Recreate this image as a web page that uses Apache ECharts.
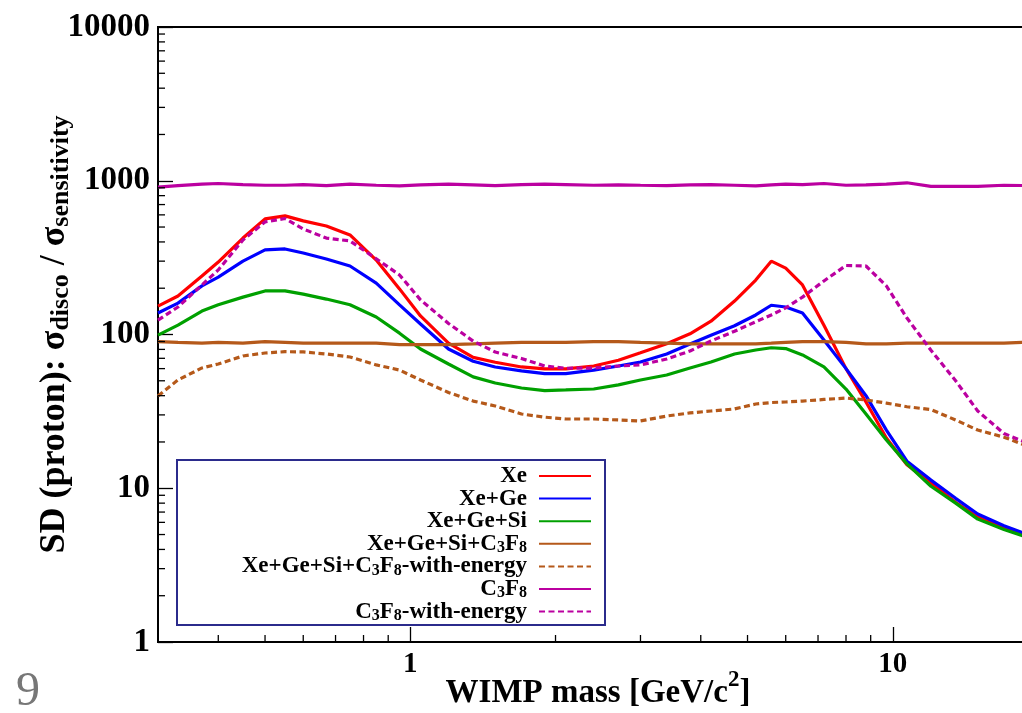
<!DOCTYPE html>
<html><head><meta charset="utf-8">
<script src="https://cdn.jsdelivr.net/npm/echarts@6/dist/echarts.min.js"></script>
<style>html,body{margin:0;padding:0;background:#fff}#c{width:1022px;height:713px}</style>
</head><body><div id="c"></div>
<script>
// WIMP mass grid [GeV/c^2]
const mass = [0.3,0.33,0.37,0.4,0.45,0.5,0.55,0.6,0.67,0.75,0.85,0.95,1.05,1.2,1.35,1.5,1.7,1.9,2.1,2.4,2.7,3.0,3.4,3.8,4.2,4.7,5.2,5.6,6.0,6.5,7.2,8.0,8.8,9.7,10.7,12,13.5,15,17,19,20];
const xe = [153,178,240,296,424,565,591,548,508,444,305,198,132,88,71,66,61.5,59.7,59.7,62.4,68,76,87,101,122,165,226,300,270,210,115,60,36.4,21.2,14.2,10.8,8.1,6.5,5.5,4.9,4.7];
const xeGe = [138,160,207,236,300,355,360,339,310,279,216,156,117,80.5,67,61.5,58,55.7,55.7,58.7,62.4,66.2,74.7,86.7,99,114,134,155,151,138,92,60,40,23.9,15,11.3,8.6,6.8,5.7,5.0,4.9];
const xeGeSi = [99,115,142,156,175,192,192,183,170,156,130,102,80.5,64.3,53,48.4,44.9,43.2,43.6,44.2,47,50.6,54.5,60.6,66.2,74.7,79.3,82,81,73.6,61.5,44.2,30.4,20.6,14.4,10.3,8.0,6.3,5.4,4.8,4.7];
const xeGeSiC3F8 = [90,89,88,89,88,90,89,88,88,88,88,86,86,86,87,88,89,89,89,90,90,89,88,87,87,87,87,88,89,90,90,89,87,87,88,88,88,88,88,89,89];
const xeGeSiC3F8Energy = [39.8,50.6,60.6,64.3,72.5,75.8,77.3,77,74.7,71.4,63.4,58.7,50.6,42,36.9,34.3,30.4,29,28.2,28.2,27.8,27.4,29.5,30.9,31.8,32.8,35.3,36.1,36.4,36.9,37.8,38.6,37.5,35.8,33.9,32.5,27.8,23.9,21.5,18.8,18.2];
const c3f8 = [910,930,950,960,945,935,935,945,930,950,935,925,940,950,940,930,945,950,945,935,940,935,930,940,945,935,925,940,950,945,960,935,940,950,970,920,920,920,935,930,940];
const c3f8Energy = [124,151,210,263,412,540,568,486,424,406,311,244,168,118,90.6,76.9,69.8,62.4,60.3,60.5,62.4,63.4,69.3,78.1,90.7,105,121,134,149,175,223,281,279,207,128,79,50,31.8,22.7,19.7,19];

const seriesNames = ['Xe','Xe+Ge','Xe+Ge+Si','Xe+Ge+Si+C3F8','Xe+Ge+Si+C3F8-with-energy','C3F8','C3F8-with-energy'];
const seriesValues = [xe, xeGe, xeGeSi, xeGeSiC3F8, xeGeSiC3F8Energy, c3f8, c3f8Energy];
const seriesColors = ['#ff0000','#0000ff','#00a000','#b5591a','#b5591a','#bb00a0','#bb00a0'];
const seriesDashed = [false,false,false,false,true,false,true];

const xMajorLabels = [1, 10];
const yMajorLabels = [1, 10, 100, 1000, 10000];
const xMinorTicks = [0.4,0.5,0.6,0.7,0.8,0.9,2,3,4,5,6,7,8,9,20];
const yMinorTicks = [];
[1,10,100,1000].forEach(k => { for (let d = 2; d <= 9; d++) yMinorTicks.push(d * k); });

const FONT = 'Liberation Serif';
const chart = echarts.init(document.getElementById('c'), null, {renderer: 'canvas'});

function richName(n) { return n.replace(/C3F8/g, 'C{s|3}F{s|8}'); }

const series = seriesNames.map((n, i) => ({
  name: n,
  type: 'line',
  symbol: 'none',
  showSymbol: false,
  data: mass.map((m, j) => [m, seriesValues[i][j]]),
  lineStyle: {color: seriesColors[i], width: 3.2, type: seriesDashed[i] ? [6, 3.5] : 'solid'},
  itemStyle: {color: seriesColors[i]},
  animation: false,
  clip: true
}));

const legendCenters = [476, 498.6, 521.2, 543.8, 566.4, 589, 611.6];
const legends = seriesNames.map((n, i) => ({
  data: [n],
  orient: 'vertical',
  align: 'right',
  right: 430,
  top: legendCenters[i] - 12,
  itemWidth: 52,
  itemHeight: 12,
  padding: 0,
  selectedMode: false,
  itemStyle: {color: 'rgba(0,0,0,0)', borderWidth: 0, opacity: 0},
  formatter: name => richName(name),
  textStyle: {
    fontFamily: FONT, fontWeight: 'bold', fontSize: 23, color: '#000', lineHeight: 24,
    padding: [0, 7, 0, 0],
    rich: {s: {fontFamily: FONT, fontWeight: 'bold', fontSize: 16, color: '#000', verticalAlign: 'bottom', lineHeight: 6}}
  }
}));

chart.setOption({
  animation: false,
  backgroundColor: '#fff',
  grid: {left: 158, right: -16, top: 27, bottom: 71, show: true, borderColor: '#000', borderWidth: 2, containLabel: false, outerBoundsMode: 'none'},
  legend: legends,
  xAxis: {
    type: 'log', logBase: 10, min: 0.3, max: 20,
    axisLine: {show: true, lineStyle: {color: '#000', width: 2}},
    axisTick: {show: true, inside: true, length: 15, lineStyle: {color: '#000', width: 1.3}},
    splitLine: {show: false},
    axisLabel: {
      showMinLabel: false, showMaxLabel: false, margin: 8,
      fontFamily: FONT, fontWeight: 'bold', fontSize: 29, color: '#000',
      formatter: v => xMajorLabels.some(t => Math.abs(t - v) / t < 1e-6) ? String(v) : ''
    },
    name: 'WIMP mass [GeV/c{p|2}]',
    nameLocation: 'middle', nameGap: 27, nameMoveOverlap: false,
    nameTextStyle: {
      fontFamily: FONT, fontWeight: 'bold', fontSize: 33, color: '#000', lineHeight: 48,
      rich: {p: {fontFamily: FONT, fontWeight: 'bold', fontSize: 23, color: '#000', verticalAlign: 'top', lineHeight: 2}}
    }
  },
  yAxis: {
    type: 'log', logBase: 10, min: 1, max: 10000,
    axisLine: {show: true, lineStyle: {color: '#000', width: 2}},
    axisTick: {show: true, inside: true, length: 15, lineStyle: {color: '#000', width: 1.3}},
    splitLine: {show: false},
    axisLabel: {
      margin: 8, fontFamily: FONT, fontWeight: 'bold', fontSize: 33, color: '#000',
      formatter: v => yMajorLabels.some(t => Math.abs(t - v) / t < 1e-6) ? String(Math.round(v)) : ''
    },
    name: 'SD (proton): σ{s|disco} / σ{s|sensitivity}',
    nameLocation: 'middle', nameGap: 84, nameRotate: 90, nameMoveOverlap: false,
    nameTextStyle: {
      fontFamily: FONT, fontWeight: 'bold', fontSize: 36, color: '#000', lineHeight: 38,
      rich: {s: {fontFamily: FONT, fontWeight: 'bold', fontSize: 26, color: '#000', verticalAlign: 'bottom', lineHeight: 10}}
    }
  },
  series: series
});

// minor ticks (positions from the chart's own scales) + legend frame + page number
const g = [];
xMinorTicks.forEach(v => {
  const p = chart.convertToPixel({gridIndex: 0}, [v, 1]);
  g.push({type: 'line', silent: true, z: 50, shape: {x1: p[0], y1: p[1], x2: p[0], y2: p[1] - 7}, style: {stroke: '#000', lineWidth: 1.3}});
});
yMinorTicks.forEach(v => {
  const p = chart.convertToPixel({gridIndex: 0}, [0.3, v]);
  g.push({type: 'line', silent: true, z: 50, shape: {x1: p[0], y1: p[1], x2: p[0] + 7, y2: p[1]}, style: {stroke: '#000', lineWidth: 1.3}});
});
g.push({type: 'rect', silent: true, z: 1, shape: {x: 177, y: 460, width: 428, height: 165}, style: {fill: 'rgba(255,255,255,0)', stroke: '#2b2b8c', lineWidth: 2}});
g.push({type: 'text', silent: true, z: 1, x: 16, y: 668, style: {text: '9', fontFamily: FONT, fontSize: 48, fill: '#777'}});
chart.setOption({graphic: {elements: g}});
</script>
</body></html>
